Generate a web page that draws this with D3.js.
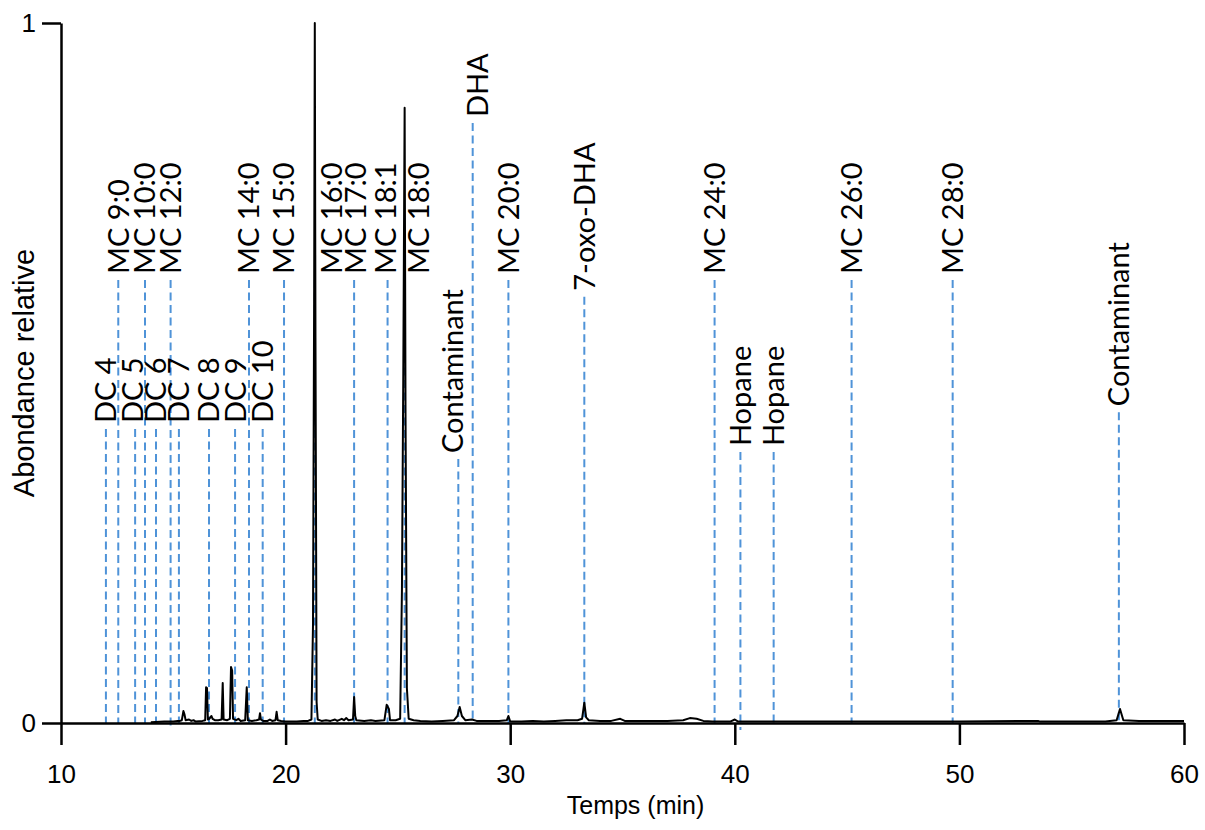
<!DOCTYPE html>
<html>
<head>
<meta charset="utf-8">
<script src="https://cdn.jsdelivr.net/npm/d3@7"></script>
<style>
  html, body { margin: 0; padding: 0; background: #fff; }
  svg { display: block; }
</style>
</head>
<body>
<svg id="chart" width="1205" height="830"></svg>
<script>
// ---- Data ----
const xTicks = [10, 20, 30, 40, 50, 60];
const yTicks = [0, 1];
const xTitle = "Temps (min)";
const yTitle = "Abondance relative";

// chromatogram trace: retention time (min) and relative abundance
const traceTime = [
  14.0, 14.6, 15.0, 15.2, 15.3, 15.38, 15.45, 15.5, 15.55, 15.7, 15.8, 15.9,
  16.0, 16.3, 16.42, 16.46, 16.5, 16.54, 16.6, 16.7, 16.75, 16.85, 17.0, 17.15,
  17.2, 17.24, 17.4, 17.52, 17.57, 17.62, 17.66, 17.8, 17.9, 18.0, 18.2, 18.27,
  18.32, 18.5, 18.7, 18.82, 18.86, 18.9, 19.0, 19.2, 19.3, 19.4, 19.55, 19.6,
  19.65, 19.8, 20.0, 20.5, 20.8, 21.0, 21.15, 21.22, 21.27, 21.3, 21.33, 21.38,
  21.43, 21.6, 21.8, 22.0, 22.2, 22.3, 22.5, 22.6, 22.7, 22.8, 23.0, 23.05,
  23.1, 23.15, 23.5, 23.8, 24.0, 24.4, 24.5, 24.6, 24.65, 24.9, 25.1, 25.18,
  25.24, 25.3, 25.34, 25.4, 25.48, 25.7, 26.0, 26.5, 27.0, 27.5, 27.65, 27.75,
  27.85, 28.0, 28.3, 28.5, 29.0, 29.5, 29.85, 29.92, 30.0, 30.5, 31.0, 31.5,
  32.0, 32.5, 33.0, 33.2, 33.3, 33.38, 33.5, 34.0, 34.5, 34.9, 35.1, 36.0,
  37.0, 37.7, 38.0, 38.3, 38.6, 39.0, 39.8, 40.0, 40.15, 41.0, 45.0, 50.0,
  53.5, 53.6, 56.5, 57.0, 57.15, 57.3, 58.0, 60.0
];
const traceValue = [
  0.001, 0.002, 0.002, 0.003, 0.003, 0.004, 0.017, 0.012, 0.004, 0.005, 0.003, 0.004,
  0.002, 0.003, 0.004, 0.051, 0.050, 0.005, 0.006, 0.010, 0.006, 0.004, 0.004, 0.005,
  0.057, 0.005, 0.004, 0.006, 0.080, 0.075, 0.006, 0.004, 0.006, 0.003, 0.004, 0.051,
  0.004, 0.003, 0.004, 0.005, 0.014, 0.005, 0.003, 0.003, 0.005, 0.003, 0.004, 0.016,
  0.004, 0.003, 0.002, 0.002, 0.003, 0.003, 0.005, 0.140, 0.600, 1.000, 0.550, 0.030,
  0.005, 0.003, 0.004, 0.003, 0.005, 0.003, 0.006, 0.004, 0.007, 0.004, 0.005, 0.037,
  0.010, 0.004, 0.003, 0.004, 0.003, 0.004, 0.026, 0.020, 0.004, 0.004, 0.006, 0.190,
  0.500, 0.879, 0.440, 0.050, 0.006, 0.004, 0.003, 0.002, 0.003, 0.004, 0.010, 0.023,
  0.010, 0.004, 0.005, 0.003, 0.003, 0.003, 0.004, 0.010, 0.002, 0.002, 0.003, 0.002,
  0.003, 0.004, 0.004, 0.006, 0.029, 0.008, 0.004, 0.003, 0.003, 0.006, 0.003, 0.003,
  0.003, 0.004, 0.007, 0.006, 0.003, 0.002, 0.002, 0.005, 0.002, 0.002, 0.002, 0.002,
  0.003, 0.002, 0.002, 0.004, 0.020, 0.004, 0.003, 0.003
];

// peak annotations
const annLabels = ["DC 4", "MC 9:0", "DC 5", "MC 10:0", "DC 6", "MC 12:0", "DC 7",
  "DC 8", "DC 9", "MC 14:0", "DC 10", "MC 15:0", "MC 16:0", "MC 17:0", "MC 18:1",
  "MC 18:0", "Contaminant", "DHA", "MC 20:0", "7-oxo-DHA", "MC 24:0", "Hopane",
  "Hopane", "MC 26:0", "MC 28:0", "Contaminant"];
// time of the dashed marker line
const annLineTime = [12.0, 12.55, 13.3, 13.74, 14.23, 14.88, 15.25, 16.59, 17.75,
  18.37, 18.98, 19.93, 21.3, 23.05, 24.54, 25.3, 27.69, 28.33, 29.92, 33.3, 39.1,
  40.25, 41.73, 45.2, 49.7, 57.1];
// time at which the label text is centred
const annTextTime = [12.0, 12.55, 13.2, 13.74, 14.23, 14.88, 15.25, 16.59, 17.75,
  18.37, 18.98, 19.93, 22.05, 23.1, 24.45, 25.9, 27.45, 28.55, 29.92, 33.3, 39.1,
  40.25, 41.73, 45.2, 49.7, 57.1];
// relative abundance where the marker line starts (label sits above it)
const annLevel = [0.42, 0.633, 0.42, 0.633, 0.42, 0.633, 0.42, 0.42, 0.42,
  0.633, 0.42, 0.633, 0.633, 0.633, 0.633, 0.633, 0.377, 0.857, 0.633, 0.609,
  0.633, 0.387, 0.387, 0.633, 0.633, 0.444];
// relative abundance where the marker line ends
const annEnd = [0, 0, 0, 0, 0, -0.01, 0, 0, 0, 0, 0, 0, 0, 0, 0, 0, 0, 0, 0, 0,
  0, -0.01, 0, 0, 0, 0];

// ---- Drawing ----
const svg = d3.select("#chart");
const x = d3.scaleLinear().domain([10, 60]).range([61, 1184]);
const y = d3.scaleLinear().domain([0, 1]).range([723, 23]);

const axisFont = "'Liberation Sans', Arial, sans-serif";
const labelFont = "Lato, 'Open Sans', sans-serif";

const ann = annLabels.map((l, i) => ({
  label: l, t: annLineTime[i], tt: annTextTime[i], lvl: annLevel[i], end: annEnd[i]
}));

// annotation dashed lines
svg.append("g").selectAll("line").data(ann).join("line")
  .attr("x1", d => x(d.t)).attr("x2", d => x(d.t))
  .attr("y1", d => y(d.lvl)).attr("y2", d => y(d.end))
  .attr("stroke", "#4f93d8")
  .attr("stroke-width", 2)
  .attr("stroke-dasharray", "8,4.5");

// annotation labels
svg.append("g").selectAll("text").data(ann).join("text")
  .attr("transform", d => `translate(${x(d.tt)},${y(d.lvl) - 6}) rotate(-90)`)
  .attr("dy", "0.36em")
  .attr("text-anchor", "start")
  .attr("font-family", labelFont)
  .attr("font-size", 29)
  .attr("fill", "#000")
  .text(d => d.label);

// axes
const gx = svg.append("g").attr("transform", `translate(0,${y(0)})`)
  .call(d3.axisBottom(x).tickValues(xTicks).tickSize(22).tickSizeOuter(0).tickPadding(20)
    .tickFormat(d3.format("d")));
const gy = svg.append("g").attr("transform", `translate(${x(10)},0)`)
  .call(d3.axisLeft(y).tickValues(yTicks).tickSize(19).tickSizeOuter(0).tickPadding(6)
    .tickFormat(d3.format("d")));
[gx, gy].forEach(g => {
  g.select(".domain").attr("stroke", "#000").attr("stroke-width", 2.5);
  g.selectAll(".tick line").attr("stroke", "#000").attr("stroke-width", 2.5);
  g.selectAll(".tick text").attr("font-family", axisFont).attr("font-size", 26).attr("fill", "#000");
});

// trace
const line = d3.line().x(d => x(d[0])).y(d => y(d[1]));
svg.append("path")
  .datum(traceTime.map((t, i) => [t, traceValue[i]]))
  .attr("d", line)
  .attr("fill", "none")
  .attr("stroke", "#000")
  .attr("stroke-width", 2)
  .attr("stroke-linejoin", "round");

// axis titles
svg.append("text")
  .attr("x", (x(10) + x(60)) / 2 + 13).attr("y", 814)
  .attr("text-anchor", "middle")
  .attr("font-family", axisFont).attr("font-size", 25)
  .text(xTitle);
svg.append("text")
  .attr("transform", `translate(34,${(y(0) + y(1)) / 2}) rotate(-90)`)
  .attr("text-anchor", "middle")
  .attr("font-family", axisFont).attr("font-size", 29)
  .text(yTitle);
</script>
</body>
</html>
